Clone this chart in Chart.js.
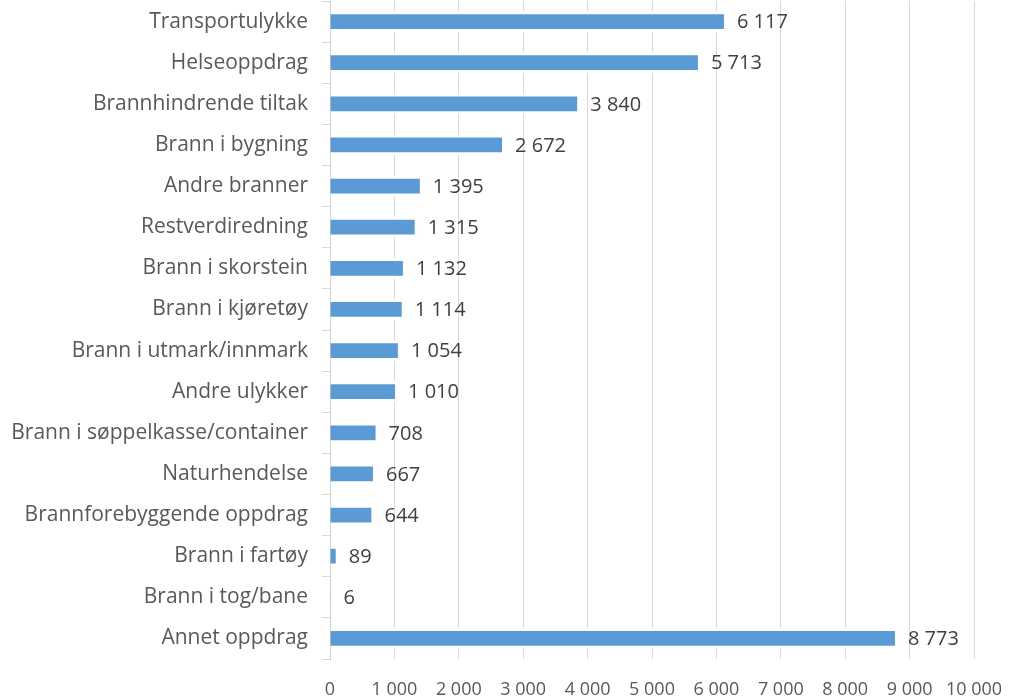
<!DOCTYPE html>
<html>
<head>
<meta charset="utf-8">
<script src="https://cdn.jsdelivr.net/npm/chart.js@4.4.1/dist/chart.umd.min.js"></script>
<style>
  html, body { margin: 0; padding: 0; background: #fff; }
  #wrap { width: 1009px; height: 697px; position: relative; }
</style>
</head>
<body>
<div id="wrap"><canvas id="chart"></canvas></div>
<script>
  const CATEGORIES = [
    "Transportulykke", "Helseoppdrag", "Brannhindrende tiltak", "Brann i bygning",
    "Andre branner", "Restverdiredning", "Brann i skorstein", "Brann i kjøretøy",
    "Brann i utmark/innmark", "Andre ulykker", "Brann i søppelkasse/container",
    "Naturhendelse", "Brannforebyggende oppdrag", "Brann i fartøy", "Brann i tog/bane",
    "Annet oppdrag",
  ];
  const VALUES = [6117, 5713, 3840, 2672, 1395, 1315, 1132, 1114, 1054, 1010, 708, 667, 644, 89, 6, 8773];
  const X_TICKS = [0, 1000, 2000, 3000, 4000, 5000, 6000, 7000, 8000, 9000, 10000];

  const FONT = "'Open Sans', sans-serif";
  const BLUE = "#5b9bd5";

  // thousands with a plain space, like "6 117"
  const fmt = (n) => String(n).replace(/\B(?=(\d{3})+(?!\d))/g, " ");

  const valueLabels = {
    id: "valueLabels",
    afterDatasetsDraw(chart) {
      const { ctx } = chart;
      const meta = chart.getDatasetMeta(0);
      ctx.save();
      ctx.font = `20px ${FONT}`;
      ctx.textBaseline = "middle";
      ctx.textAlign = "left";
      ctx.fillStyle = "#404040";
      meta.data.forEach((bar, i) => {
        ctx.fillText(fmt(VALUES[i]), bar.x + 13, bar.y + 1);
      });
      ctx.restore();
    },
  };

  new Chart(document.getElementById("chart"), {
    type: "bar",
    data: {
      labels: CATEGORIES,
      datasets: [{
        data: VALUES,
        backgroundColor: BLUE,
        borderColor: "#fff",
        borderWidth: { top: 3, bottom: 3, left: 0, right: 0 },
        borderSkipped: false,
        barThickness: 20,
      }],
    },
    options: {
      indexAxis: "y",
      responsive: true,
      maintainAspectRatio: false,
      animation: false,
      layout: { padding: { top: 1, right: 35, left: 0, bottom: 0 } },
      plugins: { legend: { display: false }, tooltip: { enabled: false } },
      scales: {
        x: {
          min: 0,
          max: 10000,
          afterBuildTicks: (s) => { s.ticks = X_TICKS.map((v) => ({ value: v })); },
          afterFit: (s) => { s.height = 38; s.paddingLeft = 0; s.paddingRight = 0; },
          grid: { color: "#d9d9d9", drawTicks: false },
          border: { display: false },
          ticks: {
            color: "#595959",
            font: { family: FONT, size: 18 },
            padding: 20,
            maxRotation: 0,
            callback: (v) => fmt(v),
          },
        },
        y: {
          afterFit: (s) => { s.width = 330; s.paddingTop = 0; s.paddingBottom = 0; },
          grid: { offset: true, drawOnChartArea: false, drawTicks: true, tickLength: 8, color: "#d9d9d9" },
          border: { display: true, color: "#d0d0d0" },
          ticks: {
            color: "#595959",
            font: { family: FONT, size: 21 },
            padding: 14,
            autoSkip: false,
          },
        },
      },
    },
    plugins: [valueLabels],
  });
</script>
</body>
</html>
